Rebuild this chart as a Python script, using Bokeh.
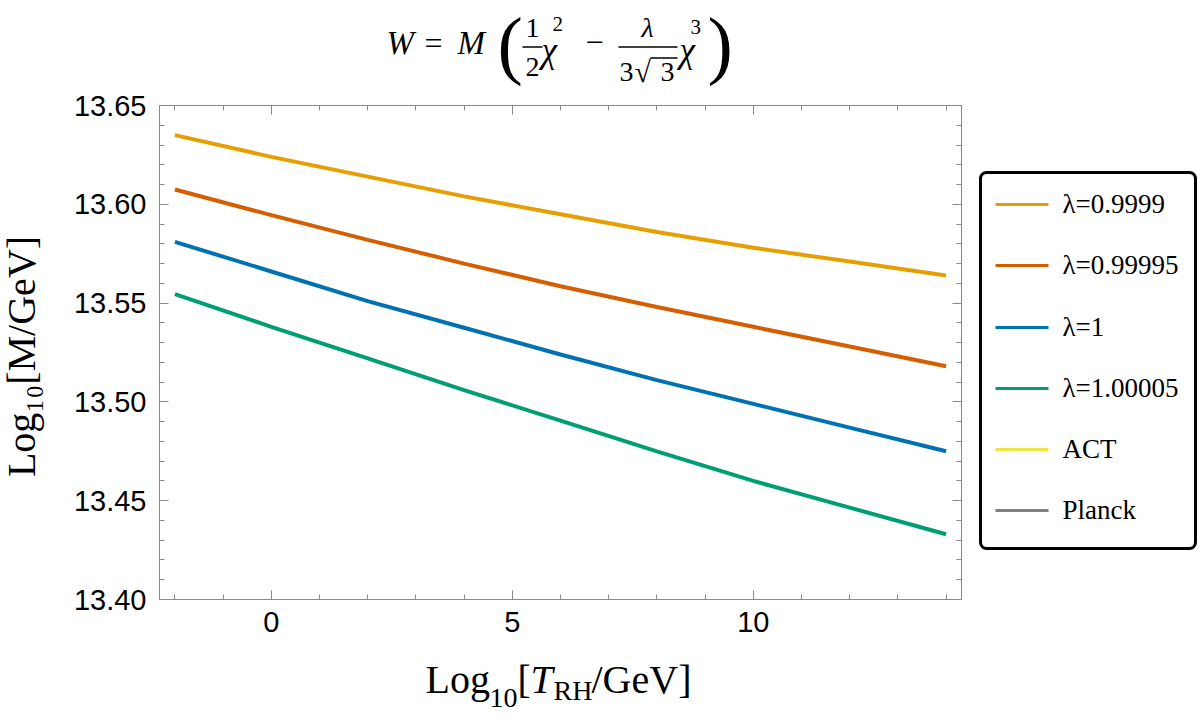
import numpy as np
from bokeh.plotting import figure
from bokeh.layouts import column, row
from bokeh.models import (FixedTicker, LinearAxis, PrintfTickFormatter, CustomJSTickFormatter,
                          Range1d)
from bokeh.core.properties import value
from bokeh.embed import file_html
from bokeh.resources import INLINE

# ---------------- data ----------------
log_trh = [-2, 0, 2, 4, 6, 8, 10, 12, 14]
m_lam_0p9999 = [13.635, 13.624, 13.614, 13.604, 13.595, 13.586, 13.578, 13.571, 13.564]
m_lam_0p99995 = [13.6075, 13.5945, 13.582, 13.570, 13.5585, 13.548, 13.538, 13.528, 13.518]
m_lam_1 = [13.581, 13.566, 13.551, 13.5375, 13.524, 13.511, 13.499, 13.487, 13.475]
m_lam_1p00005 = [13.5545, 13.538, 13.522, 13.506, 13.4905, 13.475, 13.460, 13.4465, 13.433]

series_labels = ["λ=0.9999", "λ=0.99995", "λ=1", "λ=1.00005", "ACT", "Planck"]
series_colors = ["#E69F00", "#D55E00", "#0072B2", "#009E73", "#F0E442", "#808080"]

x_major = [0, 5, 10]
x_minor = list(range(-2, 15))
y_major = [13.40, 13.45, 13.50, 13.55, 13.60, 13.65]
y_minor = [round(13.40 + 0.01 * i, 2) for i in range(26)]

# ---------------- page layout (pixels) ----------------
TOTAL_W = 1200
TITLE_H = 90
YLAB_W = 50
FL, FT, FW, FH = 159, 105, 802, 494      # frame on the page
FB = FT + FH
FR = FL + FW
MAIN_BOTTOM = 50
MAIN_RIGHT = 4
XLAB_H = 66
MAIN_TOP_Y = TITLE_H
MAIN_BOT_Y = FB + MAIN_BOTTOM
LEG_X0 = FR + MAIN_RIGHT

SERIF = "Liberation Serif"
K = 0.36   # correction of the glyph baseline placement (fraction of font size)

# ---------------- main figure ----------------
p = figure(frame_width=FW, frame_height=FH,
           min_border_left=FL - YLAB_W, min_border_top=FT - TITLE_H,
           min_border_right=MAIN_RIGHT, min_border_bottom=MAIN_BOTTOM,
           x_range=Range1d(-2.32, 14.32), y_range=Range1d(13.40, 13.65),
           output_backend="svg", toolbar_location=None,
           background_fill_color="white", border_fill_color="white")
p.xgrid.visible = False
p.ygrid.visible = False
p.outline_line_color = "#8a8a8a"

xt = FixedTicker(ticks=x_major, minor_ticks=x_minor)
yt = FixedTicker(ticks=y_major, minor_ticks=y_minor)
blank = CustomJSTickFormatter(code="return ''")

bottom_ax = p.xaxis[0]
left_ax = p.yaxis[0]
bottom_ax.ticker = xt
left_ax.ticker = yt
left_ax.formatter = PrintfTickFormatter(format="%.2f")
top_ax = LinearAxis(ticker=xt, formatter=blank)
right_ax = LinearAxis(ticker=yt, formatter=blank)
p.add_layout(top_ax, "above")
p.add_layout(right_ax, "right")

for ax in [bottom_ax, left_ax, top_ax, right_ax]:
    ax.axis_line_color = "#8a8a8a"
    ax.major_tick_line_color = "#8a8a8a"
    ax.minor_tick_line_color = "#8a8a8a"
    ax.major_tick_in = 9
    ax.major_tick_out = 0
    ax.minor_tick_in = 5
    ax.minor_tick_out = 0
    ax.major_label_text_font = "Liberation Sans"
    ax.major_label_text_font_size = "29px"
    ax.major_label_text_color = "black"
bottom_ax.major_label_standoff = 12
left_ax.major_label_standoff = 13
top_ax.major_label_standoff = 0
right_ax.major_label_standoff = 0
top_ax.major_label_text_font_size = "1px"
right_ax.major_label_text_font_size = "1px"

# ---------------- lines ----------------
series_y = [m_lam_0p9999, m_lam_0p99995, m_lam_1, m_lam_1p00005]
for ys, c in zip(series_y, series_colors[:4]):
    p.line(log_trh, ys, line_color=c, line_width=4)


# ---------------- helper figures for composed texts ----------------
def text_fig(w, h, x0, y0, y_top=None, y_bot=None):
    """blank figure whose data coordinates are page pixels (y negated).
    y_top/y_bot: page rows that the (row-aligned) frame covers."""
    yt_, yb_ = (y0, y0 + h) if y_top is None else (y_top, y_bot)
    f = figure(width=w, height=h, x_range=Range1d(x0, x0 + w), y_range=Range1d(-yb_, -yt_),
               x_axis_type=None, y_axis_type=None, min_border=0,
               output_backend="svg", toolbar_location=None,
               background_fill_color="white", border_fill_color="white")
    f.outline_line_color = None
    f.xgrid.visible = False
    f.ygrid.visible = False
    return f


def put(f, text, px, py, size, style="normal", align="left", font=SERIF):
    f.text(x=[px], y=[-(py - K * size)], text=[text], text_font=value(font),
           text_font_size=value(f"{size}px"), text_font_style=value(style),
           text_align=value(align), text_baseline=value("alphabetic"),
           text_color="black")


def vput(f, text, px, py, size, align="center"):
    f.text(x=[px - K * size], y=[-py], text=[text], text_font=value(SERIF),
           text_font_size=value(f"{size}px"), text_align=value(align),
           text_baseline=value("alphabetic"), text_color="black", angle=np.pi / 2)


def bar(f, x0, x1, yc, th=1.4, color="black"):
    f.segment(x0=[x0], y0=[-yc], x1=[x1], y1=[-yc], line_color=color, line_width=th)


# title: W = M ( 1/2 chi^2 - lambda/(3 sqrt3) chi^3 )
tf = text_fig(TOTAL_W, TITLE_H, 0, 0)
put(tf, "W", 386, 54, 33, "italic")
put(tf, "=", 424, 54, 32)
put(tf, "M", 457, 54, 33, "italic")
put(tf, "(", 497, 71, 76)
put(tf, "1", 532, 38, 28, align="center")
bar(tf, 522, 542, 46.5)
put(tf, "2", 532, 77, 28, align="center")
put(tf, "χ", 541, 63, 35, "italic")
put(tf, "2", 552, 31, 21)
put(tf, "−", 594, 54, 32, align="center")
put(tf, "λ", 647, 37, 28, "italic", align="center")
bar(tf, 618, 677, 46.5)
put(tf, "3", 619, 82, 28)
put(tf, "√", 634, 82, 30)
bar(tf, 650, 677, 57.5, 1.3)
put(tf, "3", 660, 82, 28)
put(tf, "χ", 679, 63, 35, "italic")
put(tf, "3", 690, 34, 21)
put(tf, ")", 707, 71, 76)

# y axis label (rotated): Log10[M/GeV]   (frame of this figure is aligned with the plot frame)
yf = text_fig(YLAB_W, MAIN_BOT_Y - MAIN_TOP_Y, 0, MAIN_TOP_Y, FT, FB)
vput(yf, "Log₁₀[M/GeV]", 35, 356, 40)

# legend panel (to the right of the frame, frame aligned with the plot frame)
lf = text_fig(TOTAL_W - LEG_X0, MAIN_BOT_Y - MAIN_TOP_Y, LEG_X0, MAIN_TOP_Y, FT, FB)
box = lf.quad(left=[980], right=[1195], top=[-172], bottom=[-548],
              fill_color="white", line_color="black", line_width=3)
try:
    box.glyph.border_radius = 6
except Exception:
    pass
entry_y = [204, 265, 327, 388, 449, 510]
for lab, c, yc in zip(series_labels, series_colors, entry_y):
    bar(lf, 995, 1048, yc, th=3, color=c)
    put(lf, lab, 1062, yc + 9, 27)

# x axis label: Log10[T_RH/GeV]
xf = text_fig(TOTAL_W, XLAB_H, 0, MAIN_BOT_Y)
put(xf, "Log", 425, 693, 40)
put(xf, "10", 489, 708, 28)
put(xf, "[", 517, 693, 40)
put(xf, "T", 530, 693, 40, "italic")
put(xf, "RH", 553, 700, 28)
put(xf, "/GeV]", 591, 693, 40)

layout = column(tf, row(yf, p, lf), xf)
open("out.html", "w").write(file_html(layout, INLINE))
